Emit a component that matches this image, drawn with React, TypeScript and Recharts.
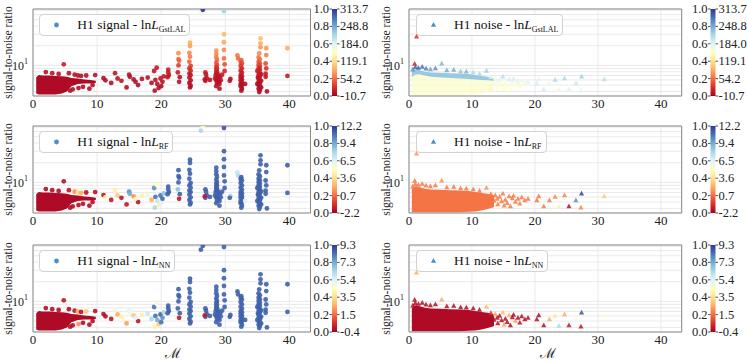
import React from "react";
import {
  ComposedChart,
  Scatter,
  Area,
  XAxis,
  YAxis,
  CartesianGrid,
  ReferenceArea,
  Legend,
} from "recharts";

const massTicks = [0, 10, 20, 30, 40];
const snrTicks = [4, 5, 6, 7, 8, 9, 10, 20, 30, 40, 50, 60, 70];
const snrMin = 3.4;
const snrMax = 73;
const massMax = 43.3;

const barFractions = ["1.0", "0.8", "0.6", "0.4", "0.2", "0.0"];
const gstlalBar = ["313.7", "248.8", "184.0", "119.1", "54.2", "-10.7"];
const rfBar = ["12.2", "9.4", "6.5", "3.6", "0.7", "-2.2"];
const nnBar = ["9.3", "7.3", "5.4", "3.5", "1.5", "-0.4"];

// dense low-mass clouds (envelopes of the overlapping markers)
const signalCoreMass = [0.5, 0.9, 1.5, 2.5, 3.5, 4.5, 5.3, 6.0, 7.0, 8.0, 9.0, 9.8];
const signalCoreTop = [6.6, 7.1, 7.0, 7.0, 6.9, 6.8, 6.7, 6.4, 6.3, 6.1, 6.0, 5.8];
const signalCoreBase = [3.7, 3.6, 3.6, 3.6, 3.6, 3.7, 4.0, 4.8, 5.2, 5.3, 5.3, 5.4];

const noiseCoreMass = [0.45, 0.9, 1.6, 2.5, 3.5, 5, 6.5, 8, 9.5, 10.5, 11.5, 12.5, 13.5];
const noiseCoreTop = [7.9, 8.7, 8.5, 8.0, 7.8, 7.7, 7.6, 7.5, 7.4, 7.1, 6.9, 6.7, 6.3];
const noiseCoreMid = [6.6, 7.2, 7.3, 7.0, 6.7, 6.5, 6.4, 6.3, 6.2, 6.1, 6.0, 5.9, 5.8];
const noiseCoreBase = [3.5, 3.5, 3.5, 3.5, 3.5, 3.5, 3.5, 3.5, 3.55, 3.6, 3.7, 3.9, 4.2];

// [chirp mass, snr, colour position for GstLAL, RF, NN]
type Pt = [number, number, number, number, number];

const signalLow: Pt[] = [
  [4.8, 10.4, 0.06, 0.04, 0.05],
  [2.0, 7.9, 0.04, 0.03, 0.03],
  [3.0, 7.6, 0.04, 0.03, 0.03],
  [4.0, 7.4, 0.04, 0.03, 0.03],
  [5.6, 7.6, 0.04, 0.05, 0.03],
  [6.5, 7.2, 0.04, 0.25, 0.04],
  [7.0, 7.0, 0.04, 0.4, 0.3],
  [7.5, 6.9, 0.04, 0.3, 0.04],
  [8.3, 7.0, 0.04, 0.04, 0.35],
  [9.7, 7.1, 0.04, 0.04, 0.04],
  [6.2, 4.3, 0.03, 0.03, 0.03],
  [7.1, 4.5, 0.03, 0.03, 0.25],
  [7.8, 4.7, 0.03, 0.03, 0.03],
  [8.8, 4.4, 0.03, 0.03, 0.03],
  [9.3, 5.0, 0.03, 0.03, 0.03],
  [5.8, 4.1, 0.03, 0.03, 0.03],
];

const signalMid: Pt[] = [
  [11.0, 6.4, 0.03, 0.05, 0.04],
  [11.3, 5.9, 0.03, 0.45, 0.03],
  [12.2, 5.4, 0.03, 0.05, 0.05],
  [12.8, 7.6, 0.05, 0.45, 0.55],
  [13.2, 6.3, 0.04, 0.35, 0.3],
  [13.8, 5.8, 0.04, 0.05, 0.45],
  [14.6, 4.6, 0.03, 0.05, 0.28],
  [15.0, 7.2, 0.04, 0.85, 0.6],
  [15.1, 6.7, 0.04, 0.8, 0.55],
  [15.7, 6.1, 0.04, 0.25, 0.35],
  [16.4, 5.0, 0.03, 0.05, 0.05],
  [17.0, 6.2, 0.04, 0.45, 0.45],
  [17.9, 6.5, 0.04, 0.55, 0.65],
  [16.0, 5.6, 0.03, 0.45, 0.6],
  [18.5, 5.4, 0.03, 0.3, 0.7],
  [18.9, 8.2, 0.05, 0.85, 0.9],
  [19.3, 9.2, 0.06, 0.5, 0.55],
  [19.1, 6.0, 0.04, 0.9, 0.9],
  [19.4, 5.2, 0.04, 0.65, 0.8],
  [19.6, 4.5, 0.03, 0.45, 0.35],
  [19.0, 4.1, 0.03, 0.7, 0.45],
  [19.9, 6.3, 0.04, 0.9, 0.92],
  [20.2, 5.6, 0.04, 0.92, 0.85],
  [20.4, 6.8, 0.05, 0.75, 0.7],
  [20.0, 4.8, 0.03, 0.6, 0.9],
];

const signalStripes: Pt[] = [
  [21.1, 8.6, 0.07, 0.93, 0.93],
  [21.1, 7.8, 0.06, 0.92, 0.93],
  [21.2, 7.1, 0.05, 0.93, 0.93],
  [21.0, 6.6, 0.04, 0.93, 0.93],
  [22.7, 15.4, 0.25, 0.93, 0.93],
  [22.7, 12.5, 0.2, 0.93, 0.93],
  [22.8, 11.8, 0.18, 0.93, 0.93],
  [22.7, 10.0, 0.12, 0.93, 0.93],
  [22.6, 7.8, 0.06, 0.75, 0.93],
  [22.9, 6.6, 0.04, 0.93, 0.93],
  [22.8, 5.6, 0.04, 0.05, 0.05],
  [24.5, 22.3, 0.3, 0.93, 0.93],
  [24.5, 19.8, 0.28, 0.93, 0.93],
  [24.4, 15.6, 0.24, 0.93, 0.93],
  [24.5, 13.6, 0.22, 0.93, 0.93],
  [24.4, 11.4, 0.18, 0.93, 0.93],
  [24.6, 9.8, 0.12, 0.93, 0.93],
  [24.4, 9.0, 0.1, 0.93, 0.93],
  [24.6, 8.3, 0.08, 0.93, 0.93],
  [24.4, 7.5, 0.06, 0.93, 0.93],
  [24.6, 7.1, 0.05, 0.93, 0.93],
  [24.4, 6.5, 0.04, 0.93, 0.93],
  [24.6, 5.9, 0.04, 0.93, 0.93],
  [24.4, 5.4, 0.03, 0.93, 0.93],
  [24.6, 4.9, 0.03, 0.93, 0.93],
  [24.5, 4.6, 0.03, 0.93, 0.93],
  [26.9, 7.8, 0.06, 0.93, 0.93],
  [27.0, 7.2, 0.05, 0.93, 0.93],
  [27.1, 6.4, 0.04, 0.93, 0.93],
  [26.9, 5.8, 0.04, 0.93, 0.93],
  [26.8, 6.1, 0.04, 0.05, 0.06],
  [27.6, 6.0, 0.04, 0.93, 0.93],
  [28.6, 16.8, 0.26, 0.93, 0.93],
  [28.6, 14.9, 0.24, 0.93, 0.93],
  [28.6, 13.3, 0.22, 0.93, 0.93],
  [28.7, 12.1, 0.2, 0.93, 0.93],
  [28.6, 11.0, 0.17, 0.93, 0.93],
  [28.7, 10.1, 0.14, 0.93, 0.93],
  [28.6, 9.5, 0.12, 0.93, 0.93],
  [28.7, 9.0, 0.1, 0.93, 0.93],
  [28.6, 8.5, 0.09, 0.93, 0.93],
  [28.7, 8.0, 0.07, 0.93, 0.93],
  [28.6, 7.7, 0.06, 0.93, 0.93],
  [28.8, 7.4, 0.05, 0.93, 0.93],
  [28.5, 7.1, 0.05, 0.93, 0.93],
  [28.9, 6.9, 0.05, 0.93, 0.93],
  [29.2, 6.6, 0.04, 0.93, 0.93],
  [28.4, 6.3, 0.04, 0.93, 0.93],
  [28.8, 6.2, 0.04, 0.93, 0.93],
  [29.3, 5.9, 0.04, 0.93, 0.93],
  [28.6, 5.9, 0.04, 0.93, 0.93],
  [29.0, 5.6, 0.03, 0.93, 0.93],
  [28.7, 5.4, 0.03, 0.93, 0.93],
  [29.1, 5.2, 0.03, 0.93, 0.93],
  [28.6, 4.8, 0.03, 0.93, 0.93],
  [29.1, 4.4, 0.03, 0.93, 0.93],
  [29.5, 7.2, 0.05, 0.93, 0.93],
  [29.8, 30.0, 0.33, 0.93, 0.93],
  [29.8, 22.6, 0.29, 0.93, 0.93],
  [29.8, 17.2, 0.25, 0.93, 0.93],
  [29.8, 12.8, 0.2, 0.93, 0.93],
  [29.9, 10.4, 0.15, 0.93, 0.93],
  [29.9, 8.2, 0.08, 0.93, 0.93],
  [30.8, 6.2, 0.04, 0.7, 0.93],
  [30.7, 5.8, 0.04, 0.93, 0.93],
  [31.9, 14.2, 0.22, 0.65, 0.93],
  [32.0, 12.8, 0.2, 0.68, 0.93],
  [32.5, 12.0, 0.18, 0.93, 0.93],
  [32.4, 11.3, 0.16, 0.93, 0.93],
  [32.6, 10.7, 0.14, 0.93, 0.93],
  [32.4, 9.8, 0.11, 0.93, 0.93],
  [32.6, 9.0, 0.09, 0.93, 0.93],
  [32.4, 8.3, 0.07, 0.93, 0.93],
  [32.6, 7.7, 0.06, 0.93, 0.93],
  [32.4, 7.1, 0.05, 0.93, 0.93],
  [32.6, 6.8, 0.05, 0.93, 0.93],
  [32.4, 6.5, 0.04, 0.93, 0.93],
  [32.6, 6.1, 0.04, 0.93, 0.93],
  [32.4, 5.9, 0.04, 0.93, 0.93],
  [32.6, 5.6, 0.04, 0.93, 0.93],
  [32.4, 5.2, 0.03, 0.93, 0.93],
  [32.6, 5.0, 0.03, 0.93, 0.93],
  [32.4, 4.8, 0.03, 0.93, 0.93],
  [32.6, 4.4, 0.03, 0.93, 0.93],
  [32.5, 4.1, 0.03, 0.93, 0.93],
  [33.1, 5.2, 0.03, 0.6, 0.93],
  [35.5, 26.0, 0.33, 0.93, 0.93],
  [35.5, 21.8, 0.3, 0.93, 0.93],
  [35.5, 18.9, 0.27, 0.93, 0.93],
  [35.3, 15.3, 0.24, 0.93, 0.93],
  [35.2, 13.3, 0.22, 0.93, 0.93],
  [35.4, 12.4, 0.2, 0.93, 0.93],
  [35.2, 11.4, 0.17, 0.93, 0.93],
  [35.4, 10.7, 0.15, 0.93, 0.93],
  [35.2, 10.1, 0.13, 0.93, 0.93],
  [35.4, 9.5, 0.11, 0.93, 0.93],
  [35.2, 9.0, 0.09, 0.93, 0.93],
  [35.4, 8.5, 0.08, 0.93, 0.93],
  [35.2, 8.0, 0.07, 0.93, 0.93],
  [35.4, 7.5, 0.06, 0.93, 0.93],
  [35.2, 7.1, 0.05, 0.93, 0.93],
  [35.4, 6.7, 0.05, 0.93, 0.93],
  [35.2, 6.3, 0.04, 0.93, 0.93],
  [35.4, 5.9, 0.04, 0.93, 0.93],
  [35.2, 5.6, 0.04, 0.93, 0.93],
  [35.4, 5.3, 0.03, 0.93, 0.93],
  [35.2, 5.0, 0.03, 0.93, 0.93],
  [35.4, 4.7, 0.03, 0.93, 0.93],
  [35.2, 4.4, 0.03, 0.93, 0.93],
  [35.4, 4.2, 0.03, 0.93, 0.93],
  [35.3, 3.9, 0.03, 0.93, 0.93],
  [35.0, 8.2, 0.07, 0.93, 0.93],
  [35.6, 7.3, 0.05, 0.93, 0.93],
  [35.1, 6.5, 0.04, 0.93, 0.93],
  [35.6, 5.8, 0.04, 0.93, 0.93],
  [35.0, 5.2, 0.03, 0.93, 0.93],
  [35.6, 4.6, 0.03, 0.93, 0.93],
  [36.4, 18.3, 0.27, 0.93, 0.93],
  [36.4, 14.4, 0.23, 0.93, 0.93],
  [36.3, 10.7, 0.15, 0.93, 0.93],
  [36.4, 9.0, 0.1, 0.93, 0.93],
  [36.3, 7.5, 0.06, 0.93, 0.93],
  [36.3, 6.7, 0.05, 0.93, 0.93],
  [36.5, 4.0, 0.03, 0.93, 0.93],
  [39.7, 18.3, 0.3, 0.93, 0.93],
  [39.7, 6.9, 0.06, 0.93, 0.93],
  [26.2, 62, 0.55, 0.7, 0.93],
  [26.5, 71, 1.0, 0.5, 0.95],
  [29.8, 68, 0.72, 0.95, 0.93],
];

const noiseLow: Pt[] = [
  [0.6, 8.6, 0.85, 0.22, 0.03],
  [1.0, 9.4, 0.92, 0.22, 0.03],
  [1.5, 9.1, 0.93, 0.22, 0.03],
  [2.1, 9.5, 0.9, 0.22, 0.03],
  [2.7, 8.9, 0.88, 0.22, 0.03],
  [3.4, 8.7, 0.82, 0.22, 0.03],
  [4.2, 9.0, 0.85, 0.22, 0.03],
  [5.2, 10.6, 0.78, 0.26, 0.3],
  [6.0, 8.4, 0.8, 0.22, 0.03],
  [7.1, 8.5, 0.8, 0.22, 0.03],
  [8.2, 8.1, 0.75, 0.22, 0.03],
  [9.1, 8.0, 0.78, 0.22, 0.03],
  [10.2, 7.8, 0.7, 0.22, 0.03],
  [11.2, 7.4, 0.7, 0.22, 0.03],
  [12.3, 8.2, 0.72, 0.26, 0.32],
  [0.9, 10.5, 0.08, 0.22, 0.03],
  [1.2, 27.5, 0.1, 0.26, 0.3],
];

const noiseMid: Pt[] = [
  [13.0, 6.6, 0.62, 0.22, 0.1],
  [13.7, 6.3, 0.55, 0.22, 0.28],
  [14.4, 6.0, 0.6, 0.22, 0.03],
  [14.9, 6.7, 0.68, 0.22, 0.32],
  [15.3, 5.4, 0.5, 0.22, 0.03],
  [15.9, 6.1, 0.62, 0.22, 0.3],
  [16.4, 5.7, 0.55, 0.22, 0.03],
  [16.9, 5.0, 0.5, 0.22, 0.28],
  [17.3, 5.6, 0.6, 0.22, 0.03],
  [17.9, 5.9, 0.55, 0.22, 0.03],
  [18.4, 5.3, 0.52, 0.22, 0.03],
  [18.9, 5.6, 0.6, 0.22, 0.03],
  [14.1, 4.6, 0.5, 0.22, 0.03],
  [15.1, 4.4, 0.5, 0.22, 0.28],
  [12.9, 4.4, 0.48, 0.22, 0.03],
  [16.1, 4.3, 0.5, 0.22, 0.03],
  [13.5, 5.2, 0.52, 0.22, 0.03],
  [17.6, 4.7, 0.5, 0.22, 0.03],
  [14.0, 5.6, 0.55, 0.22, 0.03],
  [14.7, 5.1, 0.52, 0.22, 0.03],
  [15.6, 4.8, 0.5, 0.22, 0.03],
  [16.6, 6.2, 0.62, 0.22, 0.03],
];

const noiseFar: Pt[] = [
  [20.3, 5.3, 0.62, 0.22, 0.03],
  [20.6, 6.1, 0.6, 0.22, 0.03],
  [21.4, 4.3, 0.62, 0.22, 0.03],
  [22.3, 5.3, 0.55, 0.22, 0.3],
  [23.2, 6.0, 0.7, 0.24, 0.42],
  [23.8, 4.2, 0.55, 0.45, 0.7],
  [24.7, 6.3, 0.7, 0.24, 0.3],
  [25.4, 4.3, 0.6, 0.04, 0.05],
  [26.5, 5.3, 0.65, 0.85, 0.55],
  [27.4, 6.7, 0.72, 0.97, 0.95],
  [27.3, 4.1, 0.6, 0.24, 0.05],
  [31.0, 6.1, 0.68, 0.36, 0.5],
];

const RDYLBU = [
  "#a50026", "#d73027", "#f46d43", "#fdae61", "#fee090", "#ffffbf",
  "#e0f3f8", "#abd9e9", "#74add1", "#4575b4", "#313695",
];

function hexRgb(h: string) {
  return [1, 3, 5].map((i) => parseInt(h.slice(i, i + 2), 16));
}

function cmap(t: number) {
  const x = Math.max(0, Math.min(1, t)) * 10;
  const i = Math.min(9, Math.floor(x));
  const f = x - i;
  const a = hexRgb(RDYLBU[i]);
  const b = hexRgb(RDYLBU[i + 1]);
  const c = a.map((v, k) => Math.round(v + (b[k] - v) * f));
  return `rgb(${c[0]},${c[1]},${c[2]})`;
}

const FONT = '"Liberation Serif", "DejaVu Serif", serif';
const rowTops = [9, 126, 245];
const plotH = 87;
const colPlotLeft = [32.5, 409.3];
const colPlotW = [277.5, 272.7];
const ylabelX = [8, 385.5];
const barX = [332, 710.5];
const barW = 5;

type PanelDef = {
  kind: "signal" | "noise";
  key: 2 | 3 | 4;
  sub: string;
  bar: string[];
  row: number;
  col: number;
  core: number;
  coreUpper?: number;
};

const panels: PanelDef[] = [
  { kind: "signal", key: 2, sub: "GstLAL", bar: gstlalBar, row: 0, col: 0, core: 0.02 },
  { kind: "noise", key: 2, sub: "GstLAL", bar: gstlalBar, row: 0, col: 1, core: 0.52, coreUpper: 0.76 },
  { kind: "signal", key: 3, sub: "RF", bar: rfBar, row: 1, col: 0, core: 0.02 },
  { kind: "noise", key: 3, sub: "RF", bar: rfBar, row: 1, col: 1, core: 0.21 },
  { kind: "signal", key: 4, sub: "NN", bar: nnBar, row: 2, col: 0, core: 0.02 },
  { kind: "noise", key: 4, sub: "NN", bar: nnBar, row: 2, col: 1, core: 0.02 },
];

const renderSnrTick = (props: any) => {
  if (props.payload?.value !== 10) return <g />;
  return (
    <text x={props.x} y={props.y + 1} textAnchor="end" dominantBaseline="central" fontSize={12} fill="#222" fontFamily={FONT}>
      10<tspan dy={-5} fontSize={8}>1</tspan>
    </text>
  );
};

const circleShape = (p: any) => (
  <circle cx={p.cx} cy={p.cy} r={2.4} fill={p.payload.c} fillOpacity={0.9} />
);

const triangleShape = (p: any) => (
  <polygon
    points={`${p.cx},${p.cy - 2.9} ${p.cx + 2.6},${p.cy + 1.8} ${p.cx - 2.6},${p.cy + 1.8}`}
    fill={p.payload.c}
    fillOpacity={0.85}
  />
);

function LegendBox({ p }: { p: PanelDef }) {
  return (
    <div
      style={{
        boxSizing: "border-box",
        height: 22,
        paddingRight: 4,
        display: "flex",
        alignItems: "center",
        border: "1px solid #d2d2d2",
        borderRadius: 4,
        background: "rgba(255,255,255,0.85)",
        fontFamily: FONT,
        fontSize: 13.5,
        color: "#111",
        whiteSpace: "nowrap",
      }}
    >
      <svg width={37} height={20}>
        {p.kind === "signal" ? (
          <circle cx={16.5} cy={10} r={2.4} fill="#4a8fc7" />
        ) : (
          <polygon points="16.5,7.1 19.1,11.8 13.9,11.8" fill="#4a8fc7" />
        )}
      </svg>
      <span>
        H1 {p.kind} - ln<i>L</i>
        <span style={{ fontSize: 8, position: "relative", top: 3 }}>{p.sub}</span>
      </span>
    </div>
  );
}

function Panel({ p }: { p: PanelDef }) {
  const plotLeft = colPlotLeft[p.col];
  const plotW = colPlotW[p.col];
  const left = plotLeft - 32;
  const top = rowTops[p.row] - 8;
  const axisH = 20;
  const width = 32 + plotW + 2;
  const height = 8 + plotH + axisH;

  const isSignal = p.kind === "signal";
  const coreMass = isSignal ? signalCoreMass : noiseCoreMass;
  const coreData = coreMass.map((m, i) => ({
    m,
    lo: isSignal ? signalCoreBase[i] : noiseCoreBase[i],
    mid: isSignal ? signalCoreTop[i] : noiseCoreMid[i],
    hi: isSignal ? signalCoreTop[i] : noiseCoreTop[i],
  }));
  const pts = (isSignal ? [...signalLow, ...signalMid, ...signalStripes] : [...noiseLow, ...noiseMid, ...noiseFar]).map(
    (d) => ({ m: d[0], s: d[1], c: cmap(d[p.key]) })
  );

  return (
    <div style={{ position: "absolute", left, top }}>
      <ComposedChart width={width} height={height} data={coreData} margin={{ top: 8, right: 2, bottom: 0, left: 0 }}>
        <CartesianGrid stroke="#e4e4e4" strokeWidth={0.8} />
        <XAxis
          type="number"
          dataKey="m"
          domain={[0, massMax]}
          allowDataOverflow
          ticks={massTicks}
          interval={0}
          height={axisH}
          tickLine={false}
          axisLine={false}
          tickSize={0}
          tickMargin={3}
          tick={{ fontSize: 13, fill: "#222", fontFamily: FONT }}
        />
        <YAxis
          type="number"
          scale="log"
          domain={[snrMin, snrMax]}
          allowDataOverflow
          ticks={snrTicks}
          interval={0}
          width={32}
          tickLine={false}
          axisLine={false}
          tickSize={0}
          tickMargin={5}
          tick={renderSnrTick}
        />
        {p.coreUpper === undefined ? (
          <Area
            dataKey={(d: any) => [d.lo, d.hi]}
            type="linear"
            stroke="none"
            fill={cmap(p.core)}
            fillOpacity={1}
            dot={false}
            activeDot={false}
            isAnimationActive={false}
          />
        ) : null}
        {p.coreUpper !== undefined ? (
          <Area
            dataKey={(d: any) => [d.lo, d.mid]}
            type="linear"
            stroke="none"
            fill={cmap(p.core)}
            fillOpacity={0.75}
            dot={false}
            activeDot={false}
            isAnimationActive={false}
          />
        ) : null}
        {p.coreUpper !== undefined ? (
          <Area
            dataKey={(d: any) => [d.mid, d.hi]}
            type="linear"
            stroke="none"
            fill={cmap(p.coreUpper)}
            fillOpacity={0.85}
            dot={false}
            activeDot={false}
            isAnimationActive={false}
          />
        ) : null}
        <Scatter
          data={pts}
          dataKey="s"
          shape={isSignal ? circleShape : triangleShape}
          isAnimationActive={false}
        />
        <ReferenceArea x1={0} x2={massMax} y1={snrMin} y2={snrMax} fill="none" stroke="#8a8a8a" strokeWidth={1} />
        <Legend
          layout="vertical"
          align="center"
          verticalAlign="middle"
          wrapperStyle={{ left: 39.3 + (plotLeft - 32.5) - left, top: 5.3 + 8, width: "auto", height: "auto" }}
          content={() => <LegendBox p={p} />}
        />
      </ComposedChart>
    </div>
  );
}

function Overlay() {
  return (
    <svg width={747} height={363} style={{ position: "absolute", left: 0, top: 0, pointerEvents: "none" }}>
      <defs>
        <linearGradient id="rdylbu" x1="0" y1="1" x2="0" y2="0">
          {RDYLBU.map((c, i) => (
            <stop key={i} offset={i / 10} stopColor={c} />
          ))}
        </linearGradient>
      </defs>
      {panels.map((p, k) => {
        const x = barX[p.col];
        const y0 = rowTops[p.row];
        const yc = y0 + plotH / 2;
        const lx = ylabelX[p.col];
        return (
          <g key={k} fontFamily={FONT} fill="#222">
            <text
              x={lx}
              y={yc}
              fontSize={11.5}
              textAnchor="middle"
              dominantBaseline="central"
              transform={`rotate(-90 ${lx} ${yc})`}
            >
              signal-to-noise ratio
            </text>
            {p.row === 2 ? (
              <text
                x={colPlotLeft[p.col] + colPlotW[p.col] / 2 + 2}
                y={353}
                fontSize={14}
                textAnchor="middle"
                dominantBaseline="central"
              >
                ℳ
              </text>
            ) : null}
            <rect x={x} y={y0} width={barW} height={plotH} fill="url(#rdylbu)" />
            {barFractions.map((f, i) => {
              const y = y0 + (i / 5) * plotH;
              return (
                <g key={i} fontSize={12.5}>
                  <line x1={x - 2.5} x2={x} y1={y} y2={y} stroke="#222" strokeWidth={0.8} />
                  <line x1={x + barW} x2={x + barW + 2.5} y1={y} y2={y} stroke="#222" strokeWidth={0.8} />
                  <text x={x - 3} y={y} textAnchor="end" dominantBaseline="central">
                    {f}
                  </text>
                  <text x={x + barW + 3} y={y} textAnchor="start" dominantBaseline="central">
                    {p.bar[i]}
                  </text>
                </g>
              );
            })}
          </g>
        );
      })}
    </svg>
  );
}

export default function App() {
  return (
    <div
      style={{
        position: "absolute",
        left: 0,
        top: 0,
        width: 747,
        height: 363,
        background: "#fff",
        overflow: "hidden",
        fontFamily: FONT,
      }}
    >
      {panels.map((p, i) => (
        <Panel key={i} p={p} />
      ))}
      <Overlay />
    </div>
  );
}
